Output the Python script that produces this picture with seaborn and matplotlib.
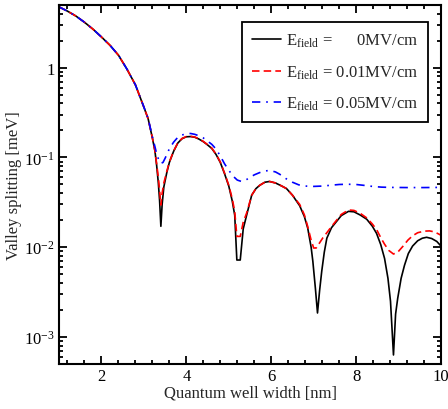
import matplotlib
matplotlib.use("Agg")
import matplotlib.pyplot as plt
from matplotlib.ticker import FixedLocator, FixedFormatter, AutoMinorLocator, LogLocator, NullFormatter
import seaborn as sns

# Valley splitting vs. quantum well width for three applied electric fields
width_e0 = [1.0, 1.2, 1.4, 1.6, 1.8, 2.0, 2.2, 2.4, 2.6, 2.8, 3.0, 3.1, 3.2, 3.26, 3.3,
            3.34, 3.37, 3.40, 3.43, 3.47, 3.54, 3.6, 3.7, 3.8, 3.9, 4.0, 4.1, 4.2, 4.3,
            4.4, 4.5, 4.6, 4.7, 4.8, 4.9, 5.0, 5.08, 5.14, 5.19, 5.27, 5.34, 5.42, 5.54,
            5.64, 5.73, 5.85, 5.96, 6.1, 6.25, 6.36, 6.5, 6.67, 6.78, 6.86, 6.94, 6.98,
            7.04, 7.09, 7.14, 7.19, 7.25, 7.31, 7.42, 7.54, 7.65, 7.82, 7.95, 8.1, 8.25,
            8.38, 8.48, 8.58, 8.67, 8.75, 8.81, 8.88, 8.93, 8.98, 9.06, 9.14, 9.23, 9.33,
            9.45, 9.56, 9.66, 9.78, 9.9, 10.0]
split_e0 = [4.76, 4.27, 3.76, 3.21, 2.69, 2.20, 1.78, 1.38, 0.966, 0.645, 0.363, 0.27, 0.165,
            0.118, 0.082, 0.052, 0.033, 0.0171, 0.030, 0.047, 0.068, 0.088, 0.117, 0.145,
            0.162, 0.170, 0.171, 0.168, 0.160, 0.150, 0.138, 0.126, 0.108, 0.088, 0.066,
            0.048, 0.033, 0.0227, 0.0072, 0.0072, 0.016, 0.0227, 0.038, 0.045, 0.049,
            0.053, 0.054, 0.052, 0.048, 0.045, 0.038, 0.029, 0.022, 0.0163, 0.010, 0.007,
            0.0035, 0.00185, 0.0033, 0.0054, 0.0088, 0.0126, 0.0165, 0.0194, 0.0225,
            0.0251, 0.0248, 0.0228, 0.0205, 0.0172, 0.0143, 0.0107, 0.0075, 0.0045,
            0.0025, 0.00063, 0.0018, 0.0027, 0.0045, 0.0063, 0.0085, 0.0103, 0.0118,
            0.0126, 0.0129, 0.0125, 0.0116, 0.0103]

width_e1 = [1.0, 1.2, 1.4, 1.6, 1.8, 2.0, 2.2, 2.4, 2.6, 2.8, 3.0, 3.1, 3.2, 3.26, 3.3,
            3.34, 3.37, 3.40, 3.43, 3.47, 3.54, 3.6, 3.7, 3.8, 3.9, 4.0, 4.1, 4.2, 4.3,
            4.4, 4.5, 4.6, 4.7, 4.8, 4.9, 5.0, 5.08, 5.14, 5.19, 5.27, 5.34, 5.42, 5.54,
            5.64, 5.73, 5.85, 5.96, 6.1, 6.25, 6.36, 6.5, 6.67, 6.78, 6.86, 6.94, 7.0,
            7.06, 7.14, 7.22, 7.31, 7.42, 7.54, 7.65, 7.82, 7.95, 8.1, 8.25, 8.38, 8.48,
            8.58, 8.67, 8.77, 8.88, 8.98, 9.1, 9.22, 9.33, 9.45, 9.6, 9.73, 9.85, 10.0]
split_e1 = [4.76, 4.27, 3.76, 3.21, 2.69, 2.20, 1.78, 1.38, 0.966, 0.645, 0.363, 0.27, 0.165,
            0.119, 0.085, 0.060, 0.043, 0.0295, 0.040, 0.052, 0.070, 0.089, 0.118, 0.146,
            0.163, 0.171, 0.172, 0.169, 0.161, 0.151, 0.139, 0.127, 0.109, 0.089, 0.067,
            0.049, 0.035, 0.025, 0.0132, 0.0132, 0.019, 0.024, 0.038, 0.045, 0.049,
            0.053, 0.054, 0.052, 0.048, 0.045, 0.038, 0.030, 0.023, 0.017, 0.012, 0.0098,
            0.0098, 0.0112, 0.0128, 0.0145, 0.017, 0.020, 0.0232, 0.026, 0.0257, 0.0238,
            0.0212, 0.0182, 0.0158, 0.0128, 0.0108, 0.0092, 0.0084, 0.0088, 0.0102,
            0.012, 0.0134, 0.0145, 0.0151, 0.0152, 0.0148, 0.0136]

width_e5 = [1.0, 1.2, 1.4, 1.6, 1.8, 2.0, 2.2, 2.4, 2.6, 2.8, 3.0, 3.1, 3.2, 3.26, 3.3,
            3.35, 3.40, 3.45, 3.5, 3.6, 3.7, 3.8, 3.9, 4.0, 4.1, 4.2, 4.3, 4.4, 4.5, 4.6,
            4.7, 4.8, 4.9, 5.0, 5.1, 5.2, 5.3, 5.4, 5.5, 5.6, 5.7, 5.8, 5.96, 6.1, 6.2,
            6.35, 6.5, 6.65, 6.8, 7.0, 7.2, 7.4, 7.6, 7.8, 8.0, 8.2, 8.4, 8.6, 8.8, 9.2,
            9.6, 10.0]
split_e5 = [4.76, 4.27, 3.76, 3.21, 2.69, 2.20, 1.78, 1.38, 0.966, 0.645, 0.365, 0.272,
            0.170, 0.132, 0.110, 0.094, 0.086, 0.088, 0.098, 0.125, 0.148, 0.168, 0.178,
            0.184, 0.185, 0.181, 0.174, 0.165, 0.152, 0.140, 0.124, 0.104, 0.085, 0.072,
            0.062, 0.056, 0.054, 0.056, 0.060, 0.064, 0.067, 0.070, 0.0718, 0.069, 0.065,
            0.058, 0.053, 0.0495, 0.048, 0.0476, 0.048, 0.049, 0.050, 0.0503, 0.050,
            0.0488, 0.0475, 0.0467, 0.0464, 0.0462, 0.0462, 0.0464]

field_labels = ["E$_{\\rm field}$ =      0MV/cm",
                "E$_{\\rm field}$ = 0.01MV/cm",
                "E$_{\\rm field}$ = 0.05MV/cm"]
ytick_values = [1e-3, 1e-2, 1e-1, 1]
ytick_labels = ["10$^{-3}$", "10$^{-2}$", "10$^{-1}$", "1"]
xtick_values = [2, 4, 6, 8, 10]

sns.set_theme(style="ticks")
plt.rcParams["font.family"] = ["Liberation Serif", "DejaVu Serif"]
plt.rcParams["mathtext.fontset"] = "custom"
plt.rcParams["mathtext.rm"] = "Liberation Serif"
plt.rcParams["mathtext.it"] = "Liberation Serif:italic"
plt.rcParams["mathtext.bf"] = "Liberation Serif:bold"
plt.rcParams["font.size"] = 12

fig = plt.figure(figsize=(4.48, 4.10), dpi=100)
ax = fig.add_axes([0.1317, 0.1098, 0.8527, 0.8756])

lw = 1.2
sns.lineplot(x=width_e0, y=split_e0, ax=ax, color="black", lw=lw,
             label=field_labels[0], sort=False)
sns.lineplot(x=width_e1, y=split_e1, ax=ax, color="#ff0000", lw=lw,
             label=field_labels[1], sort=False)
sns.lineplot(x=width_e5, y=split_e5, ax=ax, color="#0000ff", lw=lw,
             label=field_labels[2], sort=False)
ax.lines[1].set_dashes((4.5, 2.5))
ax.lines[2].set_dashes((5, 3.5, 1, 3.5))

ax.set_yscale("log")
ax.set_xlim(1, 10)
ax.set_ylim(5e-4, 5)

ax.xaxis.set_major_locator(FixedLocator(xtick_values))
ax.xaxis.set_minor_locator(AutoMinorLocator(5))
ax.yaxis.set_major_locator(FixedLocator(ytick_values))
ax.yaxis.set_major_formatter(FixedFormatter(ytick_labels))
ax.yaxis.set_minor_locator(LogLocator(base=10, subs=range(2, 10), numticks=20))
ax.yaxis.set_minor_formatter(NullFormatter())

for side in ["left", "right", "top", "bottom"]:
    ax.spines[side].set_visible(True)
    ax.spines[side].set_linewidth(1.5)
    ax.spines[side].set_color("black")
ax.tick_params(which="both", direction="in", top=True, right=True, colors="black",
               labelsize=12, width=1.3)
ax.tick_params(which="major", length=6, pad=3)
ax.tick_params(which="minor", length=3)

ax.set_xlabel("Quantum well width [nm]", fontsize=12, labelpad=0)
ax.set_ylabel("Valley splitting [meV]", fontsize=12)
ax.yaxis.set_label_coords(-0.097, 0.5)

leg = ax.legend(loc="upper right", bbox_to_anchor=(0.966, 0.953), borderaxespad=0,
                fancybox=False, framealpha=1, edgecolor="black", fontsize=12,
                handlelength=1.7, handletextpad=0.3,
                labelspacing=0.85, borderpad=0.6)
leg.get_frame().set_linewidth(1.3)

fig.savefig("out.png", dpi=100)
